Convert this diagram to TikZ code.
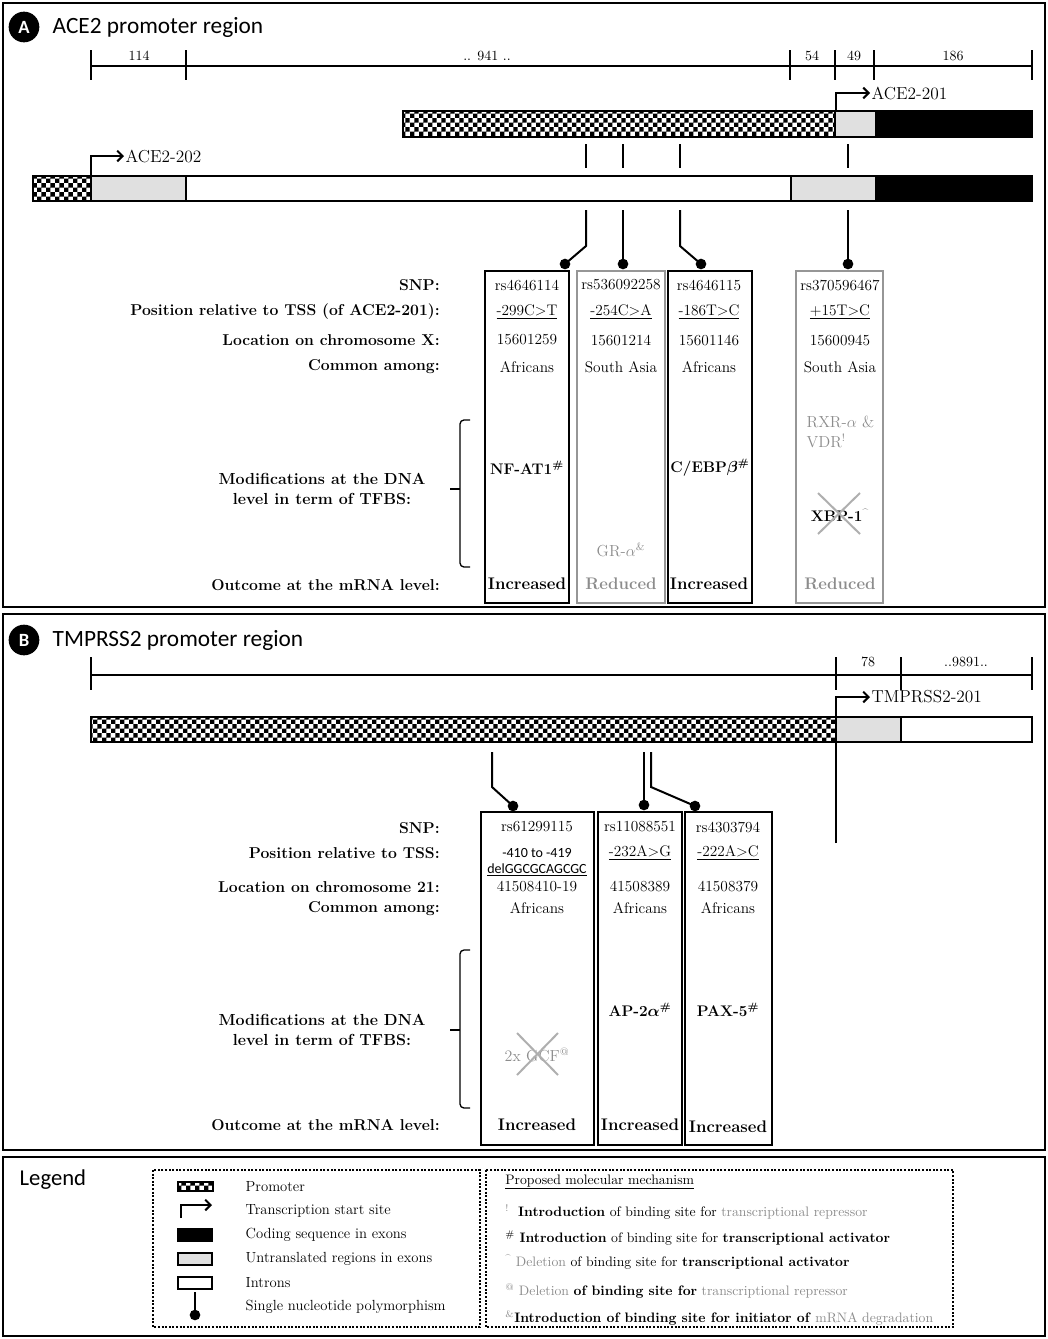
\documentclass[tikz,border=0pt]{standalone}
\usepackage{fontspec}
\newfontfamily\calibri{Carlito}
\usepackage{tikz}
\usetikzlibrary{patterns,arrows.meta,calc}
\definecolor{utrgrey}{RGB}{224,224,224}
\definecolor{midgrey}{RGB}{140,140,140}
\definecolor{boxgrey}{RGB}{150,150,150}
\definecolor{crossgrey}{RGB}{175,175,175}
\pgfdeclarepatternformonly{checker}{\pgfqpoint{0pt}{0pt}}{\pgfqpoint{7pt}{7pt}}{\pgfqpoint{7pt}{7pt}}{%
  \pgfpathrectangle{\pgfqpoint{0pt}{0pt}}{\pgfqpoint{3.5pt}{3.5pt}}%
  \pgfpathrectangle{\pgfqpoint{3.5pt}{3.5pt}}{\pgfqpoint{3.5pt}{3.5pt}}%
  \pgfusepath{fill}}

\tikzset{
  frame/.style={line width=1.5pt},
  panelmark/.style={circle, fill=black, text=white, inner sep=0pt, minimum size=23pt, font=\calibri\bfseries\fontsize{14}{14}\selectfont},
  paneltitle/.style={anchor=west, font=\calibri\fontsize{17.5}{20}\selectfont},
  scalelab/.style={font=\fontsize{10.5}{12}\selectfont},
  ruler/.style={line width=1pt},
  promoter/.style={preaction={fill=white}, pattern=checker},
  seg/.style={line width=1.2pt},
  barline/.style={line width=2pt},
  tss/.style={line width=1.5pt, -{Straight Barb[length=4pt,width=8pt]}},
  tsslab/.style={anchor=west, inner sep=1pt, font=\fontsize{13}{15}\selectfont},
  snpline/.style={line width=1.5pt},
  ball/.style={circle, fill=black, inner sep=0pt, minimum size=8pt},
  blackbox/.style={draw=black, line width=1.5pt},
  greybox/.style={draw=boxgrey, line width=1.5pt},
  rowlab/.style={anchor=east, inner sep=0pt, font=\bfseries\fontsize{11.8}{14}\selectfont},
  modlab/.style={align=center, font=\bfseries\fontsize{12}{15.5}\selectfont},
  cell/.style={font=\fontsize{11.5}{13}\selectfont},
  calcell/.style={font=\calibri\fontsize{10.5}{12}\selectfont},
  tfbs/.style={font=\bfseries\fontsize{11.5}{14}\selectfont},
  greytf/.style={text=midgrey, font=\fontsize{12}{15}\selectfont},
  outc/.style={font=\bfseries\fontsize{12.6}{14}\selectfont},
  cross/.style={crossgrey, line width=1.5pt},
  legbox/.style={line width=1.5pt, dash pattern=on 1.5pt off 1.2pt},
  legtxt/.style={anchor=west, font=\fontsize{11}{13}\selectfont},
  mechtxt/.style={anchor=west, inner sep=0pt, font=\fontsize{10.3}{12}\selectfont}
}

\begin{document}
\begin{tikzpicture}[x=0.75pt, y=-0.75pt]
    \useasboundingbox (0,0) rectangle (1048,1339);

    \draw[frame] (3,3) rectangle (1045,607);
    \draw[frame] (3,614) rectangle (1045,1150);
    \draw[frame] (3,1157) rectangle (1045,1336);

    \node[panelmark] (markA) at (24,27) {A};
    \node[paneltitle] (titleA) at (48,27) {ACE2 promoter region};

    \draw[ruler] (91,66) -- (1032,66);
    \foreach \x in {91,186,790,835,874,1032}
        \draw[ruler] (\x,50) -- (\x,80);
    \node[scalelab] (len114) at (139,56) {114};
    \node[scalelab] (len941) at (487,56) {.. 941 ..};
    \node[scalelab] (len54) at (812,56) {54};
    \node[scalelab] (len49) at (854,56) {49};
    \node[scalelab] (len186) at (953,56) {186};

    \fill[promoter] (403,111) rectangle (835,137);
    \draw[seg, fill=utrgrey] (835,111) rectangle (876,137);
    \fill[black] (876,111) rectangle (1032,137);
    \draw[barline] (403,111) rectangle (1032,137);

    \fill[promoter] (33,176) rectangle (91,201);
    \draw[seg, fill=utrgrey] (91,176) rectangle (186,201);
    \draw[seg, fill=white] (186,176) rectangle (791,201);
    \draw[seg, fill=utrgrey] (791,176) rectangle (876,201);
    \fill[black] (876,176) rectangle (1032,201);
    \draw[barline] (33,176) rectangle (1032,201);

    \coordinate (tss201) at (836,111);
    \coordinate (tss202) at (91,176);
    \node[tsslab] (lab201) at (870,93) {ACE2-201};
    \node[tsslab] (lab202) at (124,156) {ACE2-202};
    \draw[tss] (tss201) |- (lab201.west);
    \draw[tss] (tss202) |- (lab202.west);

    \foreach \x in {586,623,680,848}
        \draw[snpline] (\x,144) -- (\x,168);

    \draw[blackbox] (485,271) rectangle (569,603);
    \draw[greybox] (577,271) rectangle (665,603);
    \draw[blackbox] (668,271) rectangle (752,603);
    \draw[greybox] (796,271) rectangle (883,603);

    \node[ball] (ballA1) at (565,264) {};
    \node[ball] (ballA2) at (623,264) {};
    \node[ball] (ballA3) at (701,264) {};
    \node[ball] (ballA4) at (848,264) {};
    \coordinate (topA1) at (586,210);
    \coordinate (topA2) at (623,210);
    \coordinate (topA3) at (680,210);
    \coordinate (topA4) at (848,210);
    \draw[snpline] (topA1) -- ++(0,36) -- (ballA1.center);
    \draw[snpline] (topA2) -- (ballA2.center);
    \draw[snpline] (topA3) -- ++(0,36) -- (ballA3.center);
    \draw[snpline] (topA4) -- (ballA4.center);

    \node[rowlab] (snpA) at (440,285) {SNP:};
    \node[rowlab] (posA) at (440,312) {Position relative to TSS (of ACE2-201):};
    \node[rowlab] (chrA) at (440,340) {Location on chromosome X:};
    \node[rowlab] (popA) at (440,367) {Common among:};
    \node[modlab] (modA) at (322,489) {Modifications at the DNA\\level in term of TFBS:};
    \node[rowlab] (outA) at (440,585) {Outcome at the mRNA level:};
    \draw[line width=1pt, rounded corners=3pt] (470,420) -- (460,420) -- (460,567) -- (470,567);
    \draw[line width=1pt] (460,489) -- (450,489);

    \foreach \cx/\rs/\pos/\chr/\pop in {527/rs4646114/-299C>T/15601259/Africans,
        621/rs536092258/-254C>A/15601214/South Asia,
        709/rs4646115/-186T>C/15601146/Africans,
        840/rs370596467/+15T>C/15600945/South Asia}{
        \node[cell] (rs\cx) at (\cx,285) {\rs};
        \node[cell] (pos\cx) at (\cx,312) {\underline{\pos}};
        \node[cell] (chr\cx) at (\cx,340) {\chr};
        \node[cell] (pop\cx) at (\cx,367) {\pop};
    }

    \node[tfbs] (nfat) at (527,468) {NF-AT1\textsuperscript{\#}};
    \node[greytf] (gra) at (621,550) {GR-$\alpha$\textsuperscript{\&}};
    \node[tfbs] (cebp) at (710,468) {C/EBP{\boldmath$\beta$}\textsuperscript{\#}};
    \node[greytf, align=left, anchor=west] (rxr) at (802,432) {RXR-$\alpha$ \&\\VDR\textsuperscript{!}};
    \node[tfbs] (xbp) at (840,515) {XBP-1\textsuperscript{\textcolor{midgrey}{\textasciicircum}}};
    \draw[cross] (818,493) -- (860,534);
    \draw[cross] (860,493) -- (818,534);

    \node[outc] (outA1) at (527,584) {Increased};
    \node[outc, text=midgrey] (outA2) at (621,584) {Reduced};
    \node[outc] (outA3) at (709,584) {Increased};
    \node[outc, text=midgrey] (outA4) at (840,584) {Reduced};

    \node[panelmark] (markB) at (24,640) {B};
    \node[paneltitle] (titleB) at (48,640) {TMPRSS2 promoter region};

    \draw[ruler] (91,675) -- (1032,675);
    \foreach \x in {91,836,901,1032}
        \draw[ruler] (\x,657) -- (\x,690);
    \node[scalelab] (len78) at (868,662) {78};
    \node[scalelab] (len9891) at (966,662) {..9891..};

    \fill[promoter] (91,717) rectangle (836,742);
    \draw[seg, fill=utrgrey] (836,717) rectangle (901,742);
    \draw[seg, fill=white] (901,717) rectangle (1032,742);
    \draw[barline] (91,717) rectangle (1032,742);

    \coordinate (tssT201) at (836,843);
    \node[tsslab] (labT201) at (870,697) {TMPRSS2-201};
    \draw[tss] (tssT201) |- (labT201.west);

    \draw[blackbox] (481,812) rectangle (594,1145);
    \draw[blackbox] (598,812) rectangle (682,1145);
    \draw[blackbox] (685,812) rectangle (772,1145);

    \node[ball] (ballB1) at (513,806) {};
    \node[ball] (ballB2) at (644,805) {};
    \node[ball] (ballB3) at (695,806) {};
    \coordinate (topB1) at (492,752);
    \coordinate (topB2) at (644,752);
    \coordinate (topB3) at (651,752);
    \draw[snpline] (topB1) -- ++(0,35) -- (ballB1.center);
    \draw[snpline] (topB2) -- (ballB2.center);
    \draw[snpline] (topB3) -- ++(0,35) -- (ballB3.center);

    \node[rowlab] (snpB) at (440,828) {SNP:};
    \node[rowlab] (posB) at (440,853) {Position relative to TSS:};
    \node[rowlab] (chrB) at (440,887) {Location on chromosome 21:};
    \node[rowlab] (popB) at (440,909) {Common among:};
    \node[modlab] (modB) at (322,1030) {Modifications at the DNA\\level in term of TFBS:};
    \node[rowlab] (outB) at (440,1125) {Outcome at the mRNA level:};
    \draw[line width=1pt, rounded corners=3pt] (470,950) -- (460,950) -- (460,1108) -- (470,1108);
    \draw[line width=1pt] (460,1030) -- (450,1030);

    \node[cell] (rsB1) at (537,827) {rs61299115};
    \node[cell] (rsB2) at (640,827) {rs11088551};
    \node[cell] (rsB3) at (728,827) {rs4303794};
    \node[calcell] (posB1) at (537,853) {-410 to -419};
    \node[calcell] (delB1) at (537,870) {\underline{delGGCGCAGCGC}};
    \node[cell] (posB2) at (640,853) {\underline{-232A>G}};
    \node[cell] (posB3) at (728,853) {\underline{-222A>C}};
    \node[cell] (chrB1) at (537,886) {41508410-19};
    \node[cell] (chrB2) at (640,886) {41508389};
    \node[cell] (chrB3) at (728,886) {41508379};
    \node[cell] (popB1) at (537,908) {Africans};
    \node[cell] (popB2) at (640,908) {Africans};
    \node[cell] (popB3) at (728,908) {Africans};

    \node[greytf] (gcf) at (537,1055) {2x GCF\textsuperscript{@}};
    \draw[cross] (517,1033) -- (558,1075);
    \draw[cross] (558,1033) -- (517,1075);
    \node[tfbs] (ap2) at (640,1010) {AP-2{\boldmath$\alpha$}\textsuperscript{\#}};
    \node[tfbs] (pax) at (728,1010) {PAX-5\textsuperscript{\#}};

    \node[outc] (outB1) at (537,1125) {Increased};
    \node[outc] (outB2) at (640,1125) {Increased};
    \node[outc] (outB3) at (728,1127) {Increased};

    \node[anchor=west, font=\calibri\fontsize{17}{20}\selectfont] (legend) at (15,1180) {Legend};
    \draw[legbox] (153,1170) rectangle (480,1327);
    \draw[legbox] (486,1170) rectangle (953,1327);

    \fill[promoter] (178,1182) rectangle (213,1191);
    \draw[line width=1.5pt] (178,1182) rectangle (213,1191);
    \coordinate (tssleg) at (181,1218);
    \coordinate (tssend) at (212,1205);
    \draw[tss] (tssleg) |- (tssend);
    \fill[black] (177,1228) rectangle (213,1242);
    \draw[line width=1.5pt, fill=utrgrey] (178,1253) rectangle (212,1265);
    \draw[line width=1.5pt, fill=white] (178,1277) rectangle (212,1289);
    \node[ball] (ballleg) at (195,1315) {};
    \coordinate (snpleg) at (195,1292);
    \draw[snpline] (snpleg) -- (ballleg.center);

    \node[legtxt] (lpro) at (241,1187) {Promoter};
    \node[legtxt] (ltss) at (241,1211) {Transcription start site};
    \node[legtxt] (lcds) at (241,1235) {Coding sequence in exons};
    \node[legtxt] (lutr) at (241,1259) {Untranslated regions in exons};
    \node[legtxt] (lint) at (241,1283) {Introns};
    \node[legtxt] (lsnp) at (241,1307) {Single nucleotide polymorphism};

    \node[mechtxt] (mech) at (505,1182) {\underline{Proposed molecular mechanism}};
    \node[mechtxt] (mech1) at (505,1212) {\textsuperscript{\textcolor{midgrey}{!}}\ \ \textbf{Introduction} of binding site for \textcolor{midgrey}{transcriptional repressor}};
    \node[mechtxt] (mech2) at (505,1238) {\textsuperscript{\#}\ \textbf{Introduction} of binding site for \textbf{transcriptional activator}};
    \node[mechtxt] (mech3) at (505,1262) {\textsuperscript{\textcolor{midgrey}{\textasciicircum}}\ \textcolor{midgrey}{Deletion} of binding site for \textbf{transcriptional activator}};
    \node[mechtxt] (mech4) at (505,1291) {\textsuperscript{\textcolor{midgrey}{@}}\ \textcolor{midgrey}{Deletion} \textbf{of binding site for} \textcolor{midgrey}{transcriptional repressor}};
    \node[mechtxt] (mech5) at (505,1318) {\textsuperscript{\textcolor{midgrey}{\&}}\textbf{Introduction of binding site for initiator of} \textcolor{midgrey}{mRNA degradation}};
\end{tikzpicture}
\end{document}
